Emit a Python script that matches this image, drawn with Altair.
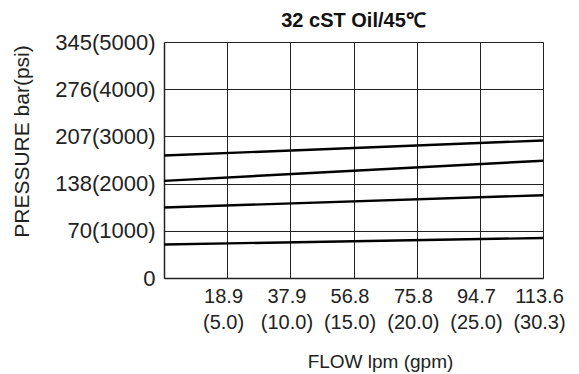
import altair as alt
import pandas as pd

# Flow ticks (lpm) with gpm equivalents
flow_lpm = [18.9, 37.9, 56.8, 75.8, 94.7, 113.6]
flow_gpm = ["(5.0)", "(10.0)", "(15.0)", "(20.0)", "(25.0)", "(30.3)"]

# Pressure ticks (bar) with labels
pres_bar = [0, 69, 138, 207, 276, 345]
pres_lbl = ["0", "70(1000)", "138(2000)", "207(3000)", "276(4000)", "345(5000)"]

# Curves: pressure (bar) at flow start/end
curve_flow = [0, 113.6]
curve_1 = [179, 201]
curve_2 = [142, 171.5]
curve_3 = [103, 121]
curve_4 = [49, 58.5]

rows = []
for name, vals in [("c1", curve_1), ("c2", curve_2), ("c3", curve_3), ("c4", curve_4)]:
    for f, p in zip(curve_flow, vals):
        rows.append({"curve": name, "flow": f, "pressure": p})
df = pd.DataFrame(rows)

xexpr = " : ".join(
    f"abs(datum.value - {v}) < 0.01 ? ['{v}', '{g}']" for v, g in zip(flow_lpm, flow_gpm)
) + " : ''"
yexpr = " : ".join(
    f"datum.value == {v} ? '{l}'" for v, l in zip(pres_bar, pres_lbl)
) + " : ''"

FONT = "Liberation Sans"

chart = alt.Chart(df).mark_line(color="black", strokeWidth=2.4).encode(
    x=alt.X(
        "flow:Q",
        scale=alt.Scale(domain=[0, 113.6], nice=False, zero=False),
        axis=alt.Axis(
            values=flow_lpm,
            labelExpr=xexpr,
            labelFont=FONT,
            labelFontSize=20,
            labelColor="#222",
            labelLineHeight=26,
            labelPadding=8,
            labelBaseline="top",
            labelFlush=False,
            labelOverlap=False,
            labelOffset=-4,
            ticks=False,
            grid=True,
            gridColor="#222",
            gridWidth=1,
            gridOpacity=1,
            domainColor="#222",
            domainWidth=1.5,
            title="FLOW lpm (gpm)",
            titleFont=FONT,
            titleFontSize=19,
            titleFontWeight="normal",
            titleColor="#222",
            titleX=216,
            titleY=89,
            titleAlign="center",
            titleBaseline="alphabetic",
        ),
    ),
    y=alt.Y(
        "pressure:Q",
        scale=alt.Scale(domain=[0, 345], nice=False),
        axis=alt.Axis(
            values=pres_bar,
            labelExpr=yexpr,
            labelFont=FONT,
            labelFontSize=22,
            labelColor="#222",
            labelPadding=9,
            labelOverlap=False,
            labelFlush=False,
            ticks=False,
            grid=True,
            gridColor="#222",
            gridWidth=1,
            gridOpacity=1,
            domainColor="#222",
            domainWidth=1.5,
            title="PRESSURE  bar(psi)",
            titleFont=FONT,
            titleFontSize=21,
            titleFontWeight="normal",
            titleColor="#222",
            titleAngle=270,
            titleX=-142,
            titleY=99,
            titleAlign="center",
            titleBaseline="middle",
        ),
    ),
    detail="curve:N",
).properties(
    width=379,
    height=236,
    autosize=alt.AutoSizeParams(type="none"),
    padding={"left": 156, "top": 34, "right": 28, "bottom": 100},
    title=alt.TitleParams(
        "32 cST Oil/45℃",
        font=FONT,
        fontSize=20,
        fontWeight="bold",
        color="#111",
        anchor="middle",
        frame="group",
        offset=0,
    ),
).configure_view(stroke="#222", strokeWidth=1.5).configure(background="white")

chart.save("out.html", embed_options={"renderer": "svg", "actions": False})
